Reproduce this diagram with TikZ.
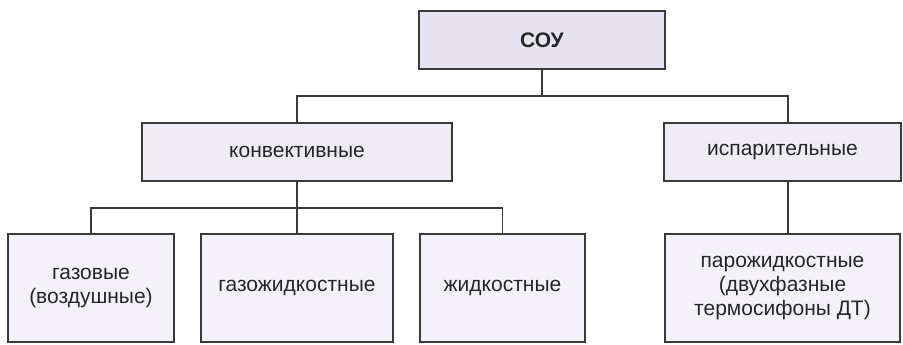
\documentclass[tikz,border=0pt]{standalone}
\usepackage{fontspec}
\setmainfont{Liberation Sans}
\definecolor{edge}{HTML}{3A3A3A}
\definecolor{fillA}{HTML}{E8E3F0}
\definecolor{fillB}{HTML}{F0ECF6}
\definecolor{fillC}{HTML}{F4F2F8}
\begin{document}
\begin{tikzpicture}[x=1pt,y=-1pt,
  box/.style={draw=edge,line width=1.3pt,align=center,inner sep=0pt,
    font=\fontsize{21}{24}\selectfont,text=black!85},
  rootbox/.style={box,fill=fillA,minimum width=246pt,minimum height=58pt,font=\fontsize{21}{24}\selectfont\bfseries},
  midbox/.style={box,fill=fillB,minimum height=58pt},
  leafbox/.style={box,fill=fillC,minimum height=108pt},
  wire/.style={draw=edge,line width=1.3pt}]
\useasboundingbox (0,0) rectangle (903,345);
% hierarchy boxes
\node[rootbox] (root) at (542,40) {СОУ};
\node[midbox,minimum width=310pt] (conv) at (297,152) {конвективные};
\node[midbox,minimum width=237pt] (evap) at (782.5,152) {испарительные};
\node[leafbox,minimum width=166pt] (gas) at (91,288) {газовые\\(воздушные)};
\node[leafbox,minimum width=192pt] (gasliq) at (297,288) {газожидкостные};
\node[leafbox,minimum width=165pt] (liq) at (502.5,288) {жидкостные};
\node[leafbox,minimum width=235pt] (vap) at (782.5,288) {парожидкостные\\(двухфазные\\термосифоны ДТ)};
% bus junctions
\coordinate (bus1) at (542,96);
\coordinate (bus2) at (297,208);
% connectors
\draw[wire] (root.south) -- (bus1);
\draw[wire] (conv.north) |- (bus1) -| ([xshift=5.5pt]evap.north);
\draw[wire] (conv.south) -- (gasliq.north);
\draw[wire] (gas.north) |- (bus2) -| (liq.north);
\draw[wire] ([xshift=5.5pt]evap.south) -- ([xshift=5.5pt]vap.north);
\end{tikzpicture}
\end{document}
